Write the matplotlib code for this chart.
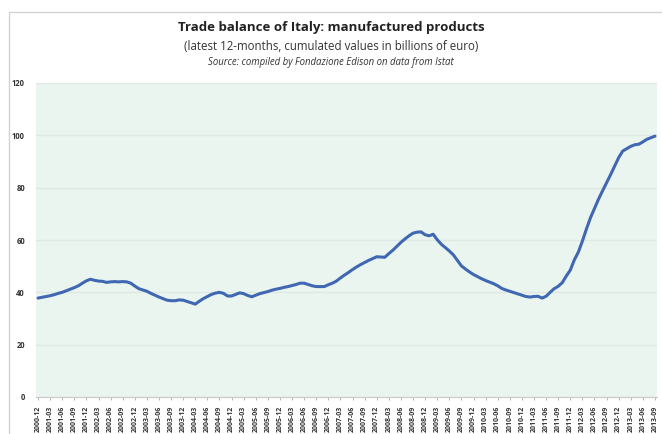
import matplotlib
matplotlib.use("Agg")
import matplotlib.pyplot as plt
import pandas as pd
from matplotlib.patches import Rectangle

# ---- data ----
start_month = "2000-12"
values = [
    37.8, 38.1, 38.4, 38.7, 39.1, 39.6, 40.0, 40.6, 41.2, 41.8,
    42.5, 43.5, 44.4, 45.0, 44.6, 44.3, 44.2, 43.8, 44.0, 44.1,
    44.0, 44.1, 44.0, 43.5, 42.4, 41.4, 40.9, 40.4, 39.6, 38.9,
    38.2, 37.6, 37.0, 36.8, 36.8, 37.1, 37.0, 36.5, 36.0, 35.5,
    36.6, 37.6, 38.4, 39.2, 39.7, 40.0, 39.6, 38.6, 38.6, 39.2,
    39.8, 39.5, 38.8, 38.3, 38.9, 39.5, 39.9, 40.3, 40.8, 41.2,
    41.5, 41.9, 42.2, 42.6, 43.0, 43.5, 43.5, 43.0, 42.5, 42.2,
    42.2, 42.2, 42.9, 43.5, 44.3, 45.5, 46.6, 47.6, 48.7, 49.7,
    50.6, 51.4, 52.2, 52.9, 53.6, 53.5, 53.4, 54.8, 56.1, 57.6,
    59.1, 60.4, 61.6, 62.6, 63.0, 63.1, 62.0, 61.6, 62.2, 60.1,
    58.4, 57.1, 55.8, 54.3, 52.2, 50.1, 48.9, 47.8, 46.8, 46.0,
    45.2, 44.5, 43.9, 43.3, 42.5, 41.5, 40.9, 40.4, 39.9, 39.4,
    38.9, 38.4, 38.2, 38.4, 38.5, 37.8, 38.5, 40.0, 41.4, 42.3,
    43.7, 46.2, 48.5, 52.4, 55.4, 59.6, 64.2, 68.5, 72.1, 75.6,
    78.8, 81.9, 85.0, 88.3, 91.5, 94.0, 94.9, 95.8, 96.4, 96.6,
    97.5, 98.5, 99.1, 99.7,
]
months = [p.strftime("%Y-%m") for p in pd.period_range(start_month, periods=len(values), freq="M")]
y_ticks = [0, 20, 40, 60, 80, 100, 120]

title = "Trade balance of Italy: manufactured products"
subtitle = "(latest 12-months, cumulated values in billions of euro)"
source = "Source: compiled by Fondazione Edison on data from Istat"

# ---- figure ----
plt.rcParams['font.family'] = ['Open Sans', 'DejaVu Sans']
fig = plt.figure(figsize=(6.62, 4.34), dpi=100)
fig.patch.set_facecolor("white")

# outer chart border
fig.patches.append(Rectangle((9/662, -0.05), 1.2, (434-12)/434 + 0.05, transform=fig.transFigure,
                             fill=False, edgecolor="#d4d4d4", linewidth=1.0, zorder=0))

ax = fig.add_axes([36/662, 1-397/434, (657-36)/662, (397-83)/434])
ax.set_facecolor("#ebf5f0")
x = list(range(len(values)))
ax.plot(x, values, color="#4068b2", linewidth=2.2, solid_capstyle="round", zorder=3)

ax.set_ylim(0, 120)
ax.set_xlim(-0.5, len(values) - 0.5)
ax.set_yticks(y_ticks)
ax.set_yticklabels([str(t) for t in y_ticks], fontsize=5.5, color="#333333", fontweight="bold")
ax.yaxis.grid(True, color="#dfe9e3", linewidth=1.0)
ax.set_axisbelow(True)

ax.set_xticks(x[::3])
ax.set_xticklabels(months[::3], rotation=90, fontsize=5, color="#333333", fontweight="bold")
ax.tick_params(axis="y", length=0, pad=8)
ax.tick_params(axis="x", length=2, color="#bbbbbb", pad=4)

for s in ["top", "right", "left"]:
    ax.spines[s].set_visible(False)
ax.spines["bottom"].set_color("#c8c8c8")
ax.spines["bottom"].set_linewidth(0.8)

fig.text(0.5, 1 - 27/434, title, ha="center", va="center", fontsize=9.5, fontweight="bold", color="#222222")
fig.text(0.5, 1 - 46/434, subtitle, ha="center", va="center", fontsize=8.3, color="#333333")
fig.text(0.5, 1 - 62/434, source, ha="center", va="center", fontsize=6.9, style="italic", color="#333333")

fig.savefig("out.png", dpi=100, facecolor="white")
